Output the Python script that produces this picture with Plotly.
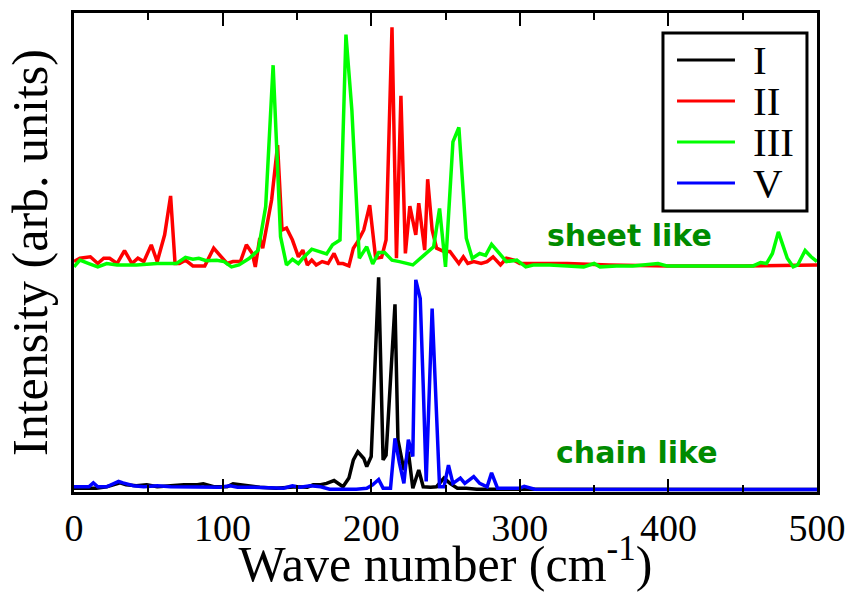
import plotly.graph_objects as go

# ---- data (intensity in arbitrary units, stacked offsets included) ----
x_I = [0, 6, 15, 22, 26, 31, 35, 42, 49, 56, 65, 74, 83, 87, 94, 103, 107, 112, 118, 125,
       136, 145, 150, 157, 161, 166, 170, 175, 178, 181, 185, 188, 191, 195, 197, 200, 205, 208, 210, 216,
       218, 222, 225, 228, 232, 235, 240, 244, 249, 253, 258, 264, 271, 280, 300, 330, 360, 400, 440, 470, 500]
y_I = [0.008, 0.008, 0.008, 0.011, 0.015, 0.019, 0.015, 0.013, 0.015, 0.011, 0.013, 0.015, 0.015, 0.017, 0.011, 0.011, 0.017, 0.015, 0.013, 0.010,
       0.008, 0.010, 0.011, 0.010, 0.015, 0.015, 0.018, 0.024, 0.018, 0.011, 0.029, 0.067, 0.084, 0.070, 0.053, 0.074, 0.448, 0.067, 0.077, 0.392,
       0.109, 0.046, 0.084, 0.008, 0.046, 0.011, 0.010, 0.011, 0.029, 0.018, 0.008, 0.008, 0.006, 0.006, 0.006, 0.005, 0.006, 0.005, 0.006, 0.005, 0.005]

x_II = [0, 4, 11, 16, 20, 24, 29, 34, 39, 43, 47, 52, 56, 61, 65, 68, 71, 75, 80, 88,
        94, 97, 103, 107, 112, 116, 120, 122, 125, 127, 133, 137, 140, 143, 147, 151, 154, 157, 160, 163,
        167, 171, 175, 178, 181, 185, 188, 191, 195, 199, 203, 207, 210, 214, 217, 220, 223, 226, 230, 232,
        236, 238, 241, 244, 249, 253, 259, 262, 265, 269, 274, 278, 282, 287, 291, 296, 300, 309, 332, 360,
        400, 450, 500]
y_II = [0.481, 0.488, 0.491, 0.477, 0.488, 0.488, 0.477, 0.504, 0.477, 0.488, 0.481, 0.516, 0.481, 0.537, 0.618, 0.477, 0.477, 0.484, 0.472, 0.472,
        0.509, 0.498, 0.477, 0.481, 0.481, 0.516, 0.498, 0.470, 0.530, 0.509, 0.610, 0.724, 0.547, 0.551, 0.526, 0.491, 0.505, 0.474, 0.484, 0.474,
        0.481, 0.477, 0.498, 0.477, 0.477, 0.472, 0.509, 0.523, 0.547, 0.599, 0.488, 0.490, 0.526, 0.970, 0.488, 0.827, 0.498, 0.597, 0.537, 0.603,
        0.505, 0.653, 0.547, 0.509, 0.502, 0.502, 0.477, 0.491, 0.477, 0.481, 0.477, 0.481, 0.491, 0.474, 0.488, 0.484, 0.477, 0.477, 0.477, 0.474,
        0.472, 0.472, 0.474]

x_III = [0, 4, 10, 16, 22, 29, 42, 56, 69, 75, 80, 84, 89, 96, 101, 106, 111, 118, 124, 129,
         134, 139, 143, 147, 151, 154, 160, 166, 170, 174, 179, 183, 187, 192, 197, 201, 205, 209, 214, 219,
         228, 235, 242, 246, 250, 255, 259, 264, 268, 273, 277, 281, 287, 291, 298, 304, 309, 320, 332, 343,
         350, 354, 365, 376, 393, 399, 421, 444, 457, 462, 466, 470, 474, 480, 484, 487, 492, 496, 500]
y_III = [0.470, 0.484, 0.477, 0.470, 0.477, 0.474, 0.474, 0.477, 0.477, 0.490, 0.486, 0.488, 0.483, 0.484, 0.481, 0.470, 0.474, 0.488, 0.505, 0.596,
         0.891, 0.533, 0.474, 0.486, 0.477, 0.488, 0.507, 0.500, 0.497, 0.516, 0.526, 0.955, 0.797, 0.488, 0.512, 0.476, 0.500, 0.500, 0.484, 0.481,
         0.474, 0.493, 0.512, 0.592, 0.470, 0.731, 0.761, 0.530, 0.488, 0.498, 0.494, 0.517, 0.494, 0.481, 0.484, 0.470, 0.474, 0.474, 0.472, 0.470,
         0.477, 0.470, 0.472, 0.472, 0.477, 0.472, 0.472, 0.472, 0.472, 0.479, 0.477, 0.498, 0.543, 0.488, 0.470, 0.474, 0.504, 0.491, 0.481]

x_V = [0, 4, 10, 13, 16, 22, 26, 30, 33, 40, 47, 56, 65, 76, 87, 98, 105, 110, 121, 132,
       141, 147, 152, 159, 166, 172, 179, 190, 197, 201, 205, 208, 213, 216, 219, 222, 225, 228, 230, 233,
       235, 237, 241, 244, 246, 249, 252, 255, 260, 263, 269, 273, 278, 281, 285, 300, 303, 310, 350, 400, 450, 500]
y_V = [0.011, 0.011, 0.011, 0.019, 0.011, 0.011, 0.017, 0.022, 0.019, 0.013, 0.011, 0.013, 0.011, 0.011, 0.010, 0.010, 0.013, 0.010, 0.010, 0.008,
       0.008, 0.013, 0.010, 0.013, 0.011, 0.006, 0.006, 0.006, 0.008, 0.015, 0.026, 0.008, 0.008, 0.112, 0.060, 0.018, 0.109, 0.074, 0.443, 0.404,
       0.223, 0.022, 0.383, 0.150, 0.011, 0.011, 0.056, 0.018, 0.029, 0.018, 0.032, 0.018, 0.011, 0.040, 0.008, 0.008, 0.012, 0.006, 0.006, 0.005, 0.005, 0.005]

series_names = ["I", "II", "III", "V"]
series_colors = ["#000000", "#ff0000", "#00ff00", "#0000ff"]
series_x = [x_I, x_II, x_III, x_V]
series_y = [y_I, y_II, y_III, y_V]

group_labels = ["sheet like", "chain like"]
group_label_x = [374, 379]
group_label_y = [0.535, 0.082]

x_ticks = [0, 100, 200, 300, 400, 500]

fig = go.Figure()
for name, col, xs, ys in zip(series_names, series_colors, series_x, series_y):
    fig.add_trace(go.Scatter(x=xs, y=ys, mode="lines", name=name,
                             line=dict(color=col, width=3.5), showlegend=False))

serif = "Liberation Serif, Times New Roman, serif"

# manual legend box (paper coords)
shapes = [dict(type="rect", xref="paper", yref="paper", x0=0.7927, x1=0.9865, y0=0.5866, y1=0.9582,
               line=dict(color="black", width=3), fillcolor="white", layer="above")]
annotations = []
row_top, row_step = 0.9019, 0.0856
for i, (name, col) in enumerate(zip(series_names, series_colors)):
    yy = row_top - i * row_step
    shapes.append(dict(type="line", xref="paper", yref="paper", x0=0.8116, x1=0.8896, y0=yy, y1=yy,
                       line=dict(color=col, width=3), layer="above"))
    annotations.append(dict(xref="paper", yref="paper", x=0.9105, y=yy, text=name, showarrow=False,
                            xanchor="left", yanchor="middle",
                            font=dict(family=serif, size=41, color="black")))

for txt, gx, gy in zip(group_labels, group_label_x, group_label_y):
    annotations.append(dict(xref="x", yref="y", x=gx, y=gy, text="<b>%s</b>" % txt, showarrow=False,
                            xanchor="center", yanchor="middle",
                            font=dict(family="DejaVu Sans, Verdana, sans-serif", size=30, color="#008b00")))

fig.update_layout(
    width=854, height=592,
    margin=dict(l=74, r=37, t=13, b=100, autoexpand=False),
    plot_bgcolor="white", paper_bgcolor="white",
    showlegend=False,
    shapes=shapes, annotations=annotations,
    xaxis=dict(range=[0, 500], showline=True, linewidth=3, linecolor="black", mirror="ticks",
               ticks="inside", ticklen=13, tickwidth=2, tickcolor="black",
               tickvals=x_ticks, ticktext=[str(v) for v in x_ticks],
               tickfont=dict(family=serif, size=38, color="black"),
               minor=dict(dtick=50, ticks="inside", ticklen=7, tickwidth=2, tickcolor="black"),
               showgrid=False, zeroline=False, automargin=False,
               title=dict(text="Wave number (cm<sup>-1</sup>)", standoff=2,
                          font=dict(family=serif, size=50, color="black"))),
    yaxis=dict(range=[0, 1], showline=True, linewidth=3, linecolor="black", mirror=True,
               ticks="", showticklabels=False, showgrid=False, zeroline=False, automargin=False,
               title=dict(text="Intensity (arb. units)", standoff=8,
                          font=dict(family=serif, size=50, color="black"))),
)

fig.write_html("out.html")
